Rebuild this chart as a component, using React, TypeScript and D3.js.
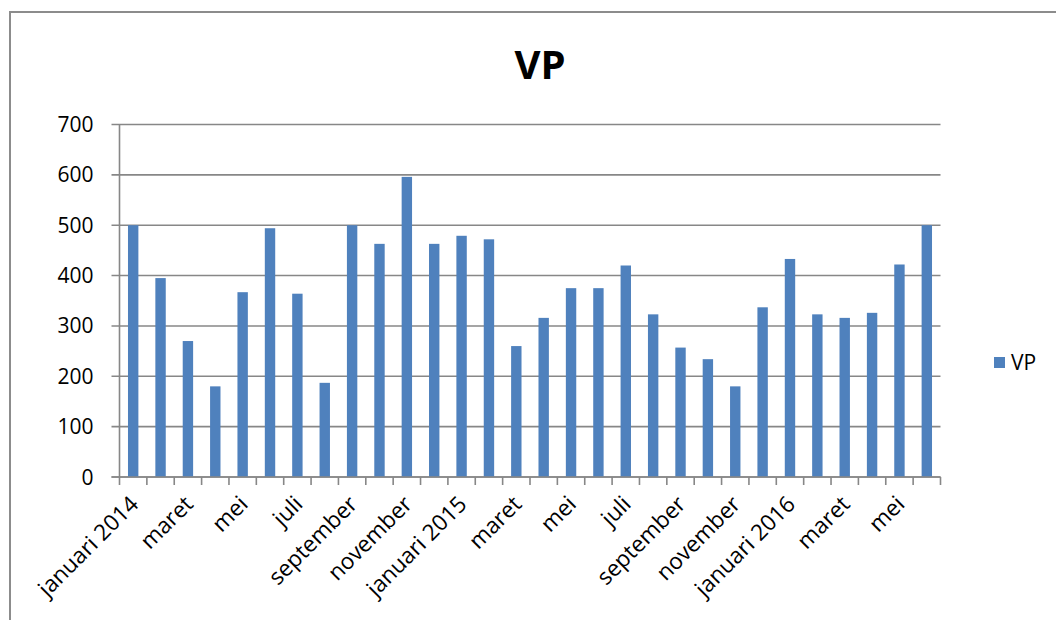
import React, { useEffect, useRef } from 'react'
import * as d3 from 'd3'

const months = [
  'januari 2014', 'februari', 'maret', 'april', 'mei', 'juni', 'juli', 'augustus',
  'september', 'oktober', 'november', 'december',
  'januari 2015', 'februari', 'maret', 'april', 'mei', 'juni', 'juli', 'augustus',
  'september', 'oktober', 'november', 'december',
  'januari 2016', 'februari', 'maret', 'april', 'mei', 'juni',
]
const vpValues = [
  500, 395, 270, 180, 367, 494, 364, 187, 500, 463, 596, 463,
  479, 472, 260, 316, 375, 375, 420, 323, 257, 234, 180, 337,
  433, 323, 316, 326, 422, 500,
]
const yTicks = [0, 100, 200, 300, 400, 500, 600, 700]
const seriesName = 'VP'

const App = () => {
  const ref = useRef<SVGSVGElement>(null)

  useEffect(() => {
    const svg = d3.select(ref.current)
    svg.selectAll('*').remove()
    const left = 119.5
    const right = 940.5
    const top = 124.5
    const bottom = 477
    const font = '"Open Sans", sans-serif'
    const gridColor = '#878787'
    const barColor = '#4F81BD'

    // outer chart frame, cut off on the right and bottom
    svg
      .append('rect')
      .attr('x', 10)
      .attr('y', 12)
      .attr('width', 1200)
      .attr('height', 800)
      .attr('fill', 'white')
      .attr('stroke', '#8c8c8c')
      .attr('stroke-width', 2)

    const idx = months.map((_, i) => i)
    const x = d3
      .scaleBand<number>()
      .domain(idx)
      .range([left, right])
      .paddingInner(0.62)
      .paddingOuter(0.31)
    const step = (right - left) / months.length

    const y = d3.scaleLinear().domain([0, 700]).range([bottom, top])

    // gridlines + y ticks
    svg
      .append('g')
      .selectAll('line')
      .data(yTicks)
      .enter()
      .append('line')
      .attr('x1', left - 8)
      .attr('x2', right)
      .attr('y1', d => y(d))
      .attr('y2', d => y(d))
      .attr('stroke', gridColor)
      .attr('stroke-width', 1.6)

    svg
      .append('g')
      .selectAll('text')
      .data(yTicks)
      .enter()
      .append('text')
      .attr('x', left - 26)
      .attr('y', d => y(d))
      .attr('dy', '0.36em')
      .attr('text-anchor', 'end')
      .style('font-family', font)
      .style('font-size', '21px')
      .attr('fill', '#000')
      .text(d => d)

    // bars
    svg
      .append('g')
      .selectAll('rect')
      .data(vpValues)
      .enter()
      .append('rect')
      .attr('x', (d, i) => x(i) as number)
      .attr('y', d => y(d))
      .attr('width', x.bandwidth())
      .attr('height', d => bottom - y(d))
      .attr('fill', barColor)

    // axes lines
    svg
      .append('line')
      .attr('x1', left)
      .attr('x2', left)
      .attr('y1', top)
      .attr('y2', bottom)
      .attr('stroke', gridColor)
      .attr('stroke-width', 1.6)
    svg
      .append('line')
      .attr('x1', left - 8)
      .attr('x2', right)
      .attr('y1', bottom)
      .attr('y2', bottom)
      .attr('stroke', gridColor)
      .attr('stroke-width', 1.6)

    // category tick marks between bars
    svg
      .append('g')
      .selectAll('line')
      .data(d3.range(months.length + 1))
      .enter()
      .append('line')
      .attr('x1', d => left + d * step)
      .attr('x2', d => left + d * step)
      .attr('y1', bottom)
      .attr('y2', bottom + 8)
      .attr('stroke', gridColor)
      .attr('stroke-width', 1.6)

    // category labels, every other month
    svg
      .append('g')
      .selectAll('text')
      .data(idx.filter(i => i % 2 === 0))
      .enter()
      .append('text')
      .attr(
        'transform',
        d => `translate(${(x(d) as number) + x.bandwidth() / 2 + 1},${bottom + 23}) rotate(-45)`
      )
      .attr('text-anchor', 'end')
      .attr('dy', '0.35em')
      .style('font-family', font)
      .style('font-size', '22.5px')
      .attr('fill', '#000')
      .text(d => months[d])

    // title
    svg
      .append('text')
      .attr('x', 540)
      .attr('y', 79)
      .attr('text-anchor', 'middle')
      .style('font-family', font)
      .style('font-size', '40px')
      .style('font-weight', 'bold')
      .attr('fill', '#000')
      .text(seriesName)

    // legend
    svg
      .append('rect')
      .attr('x', 994)
      .attr('y', 357)
      .attr('width', 11)
      .attr('height', 11)
      .attr('fill', barColor)
    svg
      .append('text')
      .attr('x', 1011)
      .attr('y', 362.5)
      .attr('dy', '0.36em')
      .style('font-family', font)
      .style('font-size', '21px')
      .attr('fill', '#000')
      .text(seriesName)
  }, [])

  return (
    <svg
      ref={ref}
      width={1056}
      height={620}
      style={{ position: 'fixed', left: 0, top: 0, background: 'white' }}
    />
  )
}

export default App
